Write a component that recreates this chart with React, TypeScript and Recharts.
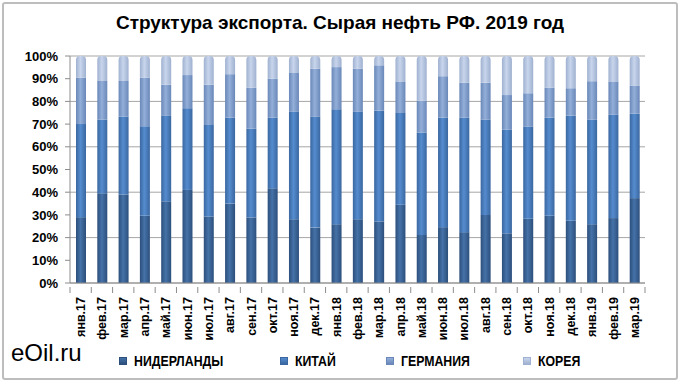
import { BarChart, Bar, XAxis, YAxis, CartesianGrid, Legend } from 'recharts';

const months = [
  'янв.17', 'фев.17', 'мар.17', 'апр.17', 'май.17', 'июн.17', 'июл.17', 'авг.17', 'сен.17',
  'окт.17', 'ноя.17', 'дек.17', 'янв.18', 'фев.18', 'мар.18', 'апр.18', 'май.18', 'июн.18',
  'июл.18', 'авг.18', 'сен.18', 'окт.18', 'ноя.18', 'дек.18', 'янв.19', 'фев.19', 'мар.19',
];

// доли, %
const netherlands = [29, 39.5, 39, 29.6, 36, 41, 29.3, 35, 28.8, 41.7, 28.1, 24.4, 25.9, 28.1, 27.1, 34.5, 21.2, 24.6, 22.4, 30, 21.9, 28.3, 29.6, 27.4, 25.9, 28.6, 37.4];
const china = [41, 32.5, 34.3, 39.4, 37.6, 36, 40.3, 37.8, 39.2, 31.1, 47.3, 48.8, 50.6, 47.3, 48.8, 40.4, 45.1, 48.2, 50.5, 41.9, 45.6, 40.6, 43.2, 46.3, 46, 45.5, 37.3];
const germany = [20.5, 17, 15.7, 21.5, 13.8, 14.6, 17.8, 19.2, 18, 17.2, 17.1, 21.2, 18.6, 19, 20, 13.9, 14, 18.3, 15.4, 16.3, 15.3, 14.7, 13.3, 12.1, 17, 14.7, 12.3];
const korea = [9.5, 11, 11, 9.5, 12.6, 8.4, 12.6, 8, 14, 10, 7.5, 5.6, 4.9, 5.6, 4.1, 11.2, 19.7, 8.9, 11.7, 11.8, 17.2, 16.4, 13.9, 14.2, 11.1, 11.2, 13];

const yTicks = [0, 0.1, 0.2, 0.3, 0.4, 0.5, 0.6, 0.7, 0.8, 0.9, 1];

const data = months.map((m, i) => ({
  month: m,
  НИДЕРЛАНДЫ: netherlands[i],
  КИТАЙ: china[i],
  ГЕРМАНИЯ: germany[i],
  КОРЕЯ: korea[i],
}));

const series = [
  { key: 'НИДЕРЛАНДЫ', id: 'gN', edge: '#2c4f7c', mid: '#4572a8', left: 119 },
  { key: 'КИТАЙ', id: 'gC', edge: '#3a67a0', mid: '#558ccf', left: 280 },
  { key: 'ГЕРМАНИЯ', id: 'gG', edge: '#6987b8', mid: '#93afd9', left: 386 },
  { key: 'КОРЕЯ', id: 'gK', edge: '#9fb1d0', mid: '#c8d5ec', left: 523 },
];

const font = '"Liberation Sans", Arial, sans-serif';
const BAND = 575 / months.length;

function MonthTick(props: any) {
  const { x, y, payload, index } = props;
  const ay = y - 4;
  return (
    <g>
      <line x1={x - BAND / 2} x2={x - BAND / 2} y1={ay} y2={ay + 6} stroke="#8c8c8c" />
      {index === months.length - 1 && (
        <line x1={x + BAND / 2} x2={x + BAND / 2} y1={ay} y2={ay + 6} stroke="#8c8c8c" />
      )}
      <text
        transform={`translate(${x},${ay + 10}) rotate(-90)`}
        textAnchor="end"
        x={0}
        y={4.5}
        fontFamily={font}
        fontWeight="bold"
        fontSize={12.5}
        fill="#000"
      >
        {payload.value}
      </text>
    </g>
  );
}

function LegendBox() {
  return (
    <div style={{ position: 'relative', width: 680, height: 20 }}>
      {series.map((s) => (
        <div
          key={s.key}
          style={{ position: 'absolute', left: s.left, top: 0, display: 'flex', alignItems: 'center' }}
        >
          <span
            style={{
              display: 'inline-block',
              width: 6,
              height: 6,
              marginRight: 7,
              background: `linear-gradient(180deg, ${s.mid}, ${s.edge})`,
              border: `1px solid ${s.edge}`,
            }}
          />
          <span
            style={{
              display: 'inline-block',
              fontFamily: font,
              fontWeight: 'bold',
              fontSize: 15,
              color: '#000',
              transform: 'scaleX(0.82)',
              transformOrigin: 'left center',
              whiteSpace: 'nowrap',
            }}
          >
            {s.key}
          </span>
        </div>
      ))}
    </div>
  );
}

export default function App() {
  return (
    <div style={{ position: 'absolute', left: 0, top: 0, width: 680, height: 384, background: '#fff' }}>
      <div
        style={{
          position: 'absolute',
          left: 2,
          top: 2,
          width: 672,
          height: 374,
          border: '2px solid #bdbdbd',
          borderRadius: 3,
        }}
      />
      <div
        style={{
          position: 'absolute',
          top: 12,
          width: 680,
          textAlign: 'center',
          fontFamily: font,
          fontWeight: 'bold',
          fontSize: 19,
          color: '#000',
          whiteSpace: 'nowrap',
        }}
      >
        Структура экспорта. Сырая нефть РФ. 2019 год
      </div>
      <div style={{ position: 'absolute', left: 11, top: 339, fontFamily: font, fontSize: 24, color: '#000' }}>
        eOil.ru
      </div>
      <div style={{ position: 'absolute', left: 0, top: 0 }}>
        <BarChart
          width={680}
          height={384}
          data={data}
          stackOffset="expand"
          barSize={10}
          margin={{ top: 56, right: 35, left: 10, bottom: 0 }}
        >
          <defs>
            {series.map((s) => (
              <linearGradient key={s.id} id={s.id} x1="0" y1="0" x2="1" y2="0">
                <stop offset="0%" stopColor={s.edge} />
                <stop offset="45%" stopColor={s.mid} />
                <stop offset="100%" stopColor={s.edge} />
              </linearGradient>
            ))}
          </defs>
          <CartesianGrid vertical={false} stroke="#a6a6a6" />
          <XAxis
            dataKey="month"
            interval={0}
            height={101}
            tickLine={false}
            axisLine={{ stroke: '#8c8c8c' }}
            tick={<MonthTick />}
          />
          <YAxis
            width={60}
            domain={[0, 1]}
            ticks={yTicks}
            tickFormatter={(v: number) => `${Math.round(v * 100)}%`}
            tick={{ fontFamily: font, fontWeight: 'bold', fontSize: 13, fill: '#000' }}
            tickSize={5}
            tickMargin={7}
            axisLine={{ stroke: '#8c8c8c' }}
            tickLine={{ stroke: '#8c8c8c' }}
          />
          <Legend
            verticalAlign="middle"
            align="center"
            wrapperStyle={{ position: 'absolute', left: 0, top: 352, width: 680 }}
            content={<LegendBox />}
          />
          {series.map((s, i) => (
            <Bar
              key={s.key}
              dataKey={s.key}
              stackId="a"
              fill={`url(#${s.id})`}
              radius={i === series.length - 1 ? [4, 4, 0, 0] : 0}
              isAnimationActive={false}
            />
          ))}
        </BarChart>
      </div>
    </div>
  );
}
